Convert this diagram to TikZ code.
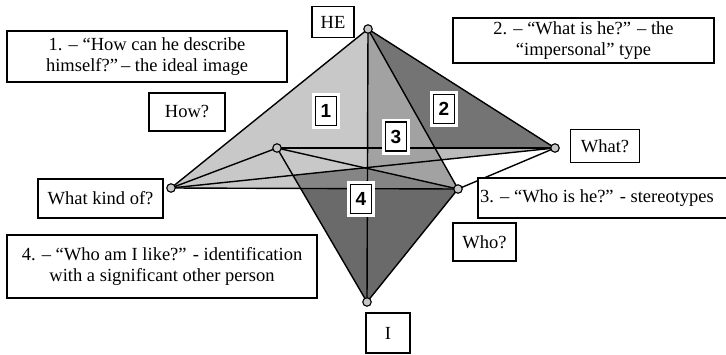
\documentclass[tikz,border=0pt]{standalone}
\usepackage{fontspec}
\setmainfont{Liberation Serif}
\newfontfamily\numfont{Liberation Sans}
\definecolor{cone}{HTML}{C8C8C8}
\definecolor{cstrip}{HTML}{BBBBBB}
\definecolor{cthree}{HTML}{A2A2A2}
\definecolor{ctwo}{HTML}{747474}
\definecolor{cfoura}{HTML}{858585}
\definecolor{cfourb}{HTML}{6A6A6A}
\begin{document}
\begin{tikzpicture}[x=1pt,y=-1pt,
  lbl/.style={draw, line width=1.4pt, fill=white, align=center, inner sep=0pt,
    font=\fontsize{18.5}{21.5}\selectfont},
  numbox/.style={draw, line width=1.4pt, fill=white, inner sep=0pt,
    minimum width=21pt, minimum height=29pt,
    font=\numfont\bfseries\fontsize{19}{19}\selectfont,
    preaction={draw=white, line width=7pt}},
  edge/.style={line width=1.4pt, black},
  vtx/.style={circle, draw, line width=1.1pt, fill=gray!45, inner sep=0pt, minimum size=8.5pt}]
\useasboundingbox (0,0) rectangle (726,354);
\fill[white] (0,0) rectangle (726,354);
% vertices
\coordinate (HE) at (368,29);
\coordinate (WK) at (171,188);
\coordinate (IN) at (277,148);
\coordinate (WH) at (555,148);
\coordinate (WO) at (458,189);
\coordinate (I)  at (367,302);
\coordinate (C) at (intersection of WK--WH and IN--WO);
\coordinate (P) at (intersection of HE--WO and IN--WH);
\coordinate (Q) at (intersection of HE--WO and WK--WH);
\coordinate (L) at (intersection of IN--I and WK--WH);
\coordinate (M) at (intersection of IN--I and WK--WO);
\coordinate (B) at (intersection of HE--I and WK--WO);
% faces
\fill[cone] (HE) -- (WK) -- (WO) -- cycle;
\fill[cstrip] (P) -- (WH) -- (Q) -- cycle;
\fill[cthree] (HE) -- (B) -- (WO) -- cycle;
\fill[ctwo] (HE) -- (WH) -- (P) -- cycle;
\fill[cfoura] (L) -- (C) -- (WO) -- (M) -- cycle;
\fill[cfourb] (M) -- (WO) -- (I) -- cycle;
% edges
\draw[edge] (HE) -- (WK);
\draw[edge] (HE) -- (WH);
\draw[edge] (HE) -- (WO);
\draw[edge] (HE) -- (I);
\draw[edge] (WK) -- (IN);
\draw[edge] (WK) -- (WH);
\draw[edge] (WK) -- (WO);
\draw[edge] (IN) -- (WH);
\draw[edge] (IN) -- (WO);
\draw[edge] (IN) -- (I);
\draw[edge] (WO) -- (I);
\draw[edge] (WO) -- (WH);
% vertex markers
\foreach \v in {HE,WK,IN,WH,WO,I} \node[vtx] (m\v) at (\v) {};
% labels
\node[lbl, minimum width=42pt, minimum height=31pt] (lHE) at (333,22) {HE};
\node[lbl, minimum width=44pt, minimum height=40pt] (lI) at (388,333) {I};
\node[lbl, minimum width=280pt, minimum height=51pt] (b1) at (147,56.5)
  {1. – “How can he describe\\himself?”\,– the ideal image};
\node[lbl, minimum width=76pt, minimum height=38pt] (lhow) at (187,112) {How?};
\node[lbl, minimum width=261pt, minimum height=45pt] (b2) at (583.5,40.5)
  {2. – “What is he?” – the\\“impersonal” type};
\node[lbl, minimum width=69pt, minimum height=33pt] (lwhat) at (605,146) {What?};
\node[lbl, minimum width=125pt, minimum height=39pt] (lwk) at (100.5,198.5) {What kind of?};
\node[lbl, minimum width=310pt, minimum height=63pt] (b4) at (162,266.5)
  {4. – “Who am I like?” - identification\\with a significant other person};
\node[lbl, minimum width=250pt, minimum height=40pt] (b3) at (603,198)
  {\hspace*{-6pt}3. – “Who is he?” - stereotypes\hspace*{6pt}};
\node[lbl, minimum width=63pt, minimum height=38pt] (lwho) at (484.5,242) {Who?};
% face numbers
\node[numbox] (n1) at (326,111) {1};
\node[numbox] (n2) at (444,109) {2};
\node[numbox] (n3) at (396,136.5) {3};
\node[numbox] (n4) at (361,199) {4};
\end{tikzpicture}
\end{document}
